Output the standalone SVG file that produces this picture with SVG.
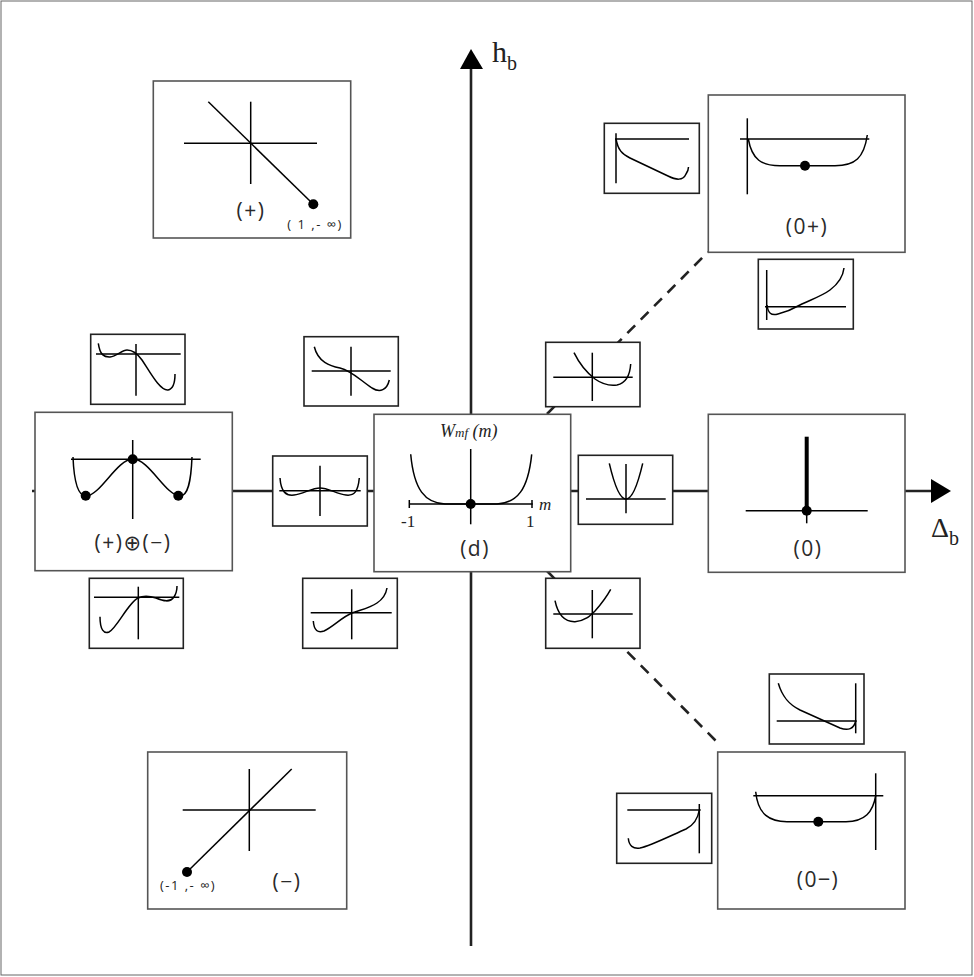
<svg xmlns="http://www.w3.org/2000/svg" width="974" height="977" viewBox="0 0 974 977">
<style>
.frame{fill:none;stroke:#666;stroke-width:1}
.axis{fill:none;stroke:#222;stroke-width:2.6}
.dash{fill:none;stroke:#222;stroke-width:2.6;stroke-dasharray:11 8}
.big{fill:#fff;stroke:#555;stroke-width:1.6}
.small{fill:#fff;stroke:#222;stroke-width:1.6}
.ln{fill:none;stroke:#000;stroke-width:1.5}
.dot{fill:#000}
.lbl{font-family:"Open Sans","Noto Sans","DejaVu Sans",sans-serif;font-size:21px;fill:#2a2a2a;text-anchor:middle;letter-spacing:1.5px}
.sm{font-family:"Open Sans","Noto Sans","DejaVu Sans",sans-serif;font-size:13px;fill:#222;text-anchor:middle;letter-spacing:1.5px}
.ser{font-family:"Liberation Serif","DejaVu Serif",serif;fill:#222}
</style>
<rect class="frame" x="1" y="1" width="971" height="974"/>
<g id="connectors">
<line class="axis" x1="32" y1="491" x2="932" y2="491"/>
<polygon points="951,491 931,479 931,503" fill="#000"/>
<line class="axis" x1="471" y1="946" x2="471" y2="68"/>
<polygon points="471,49 460,69 483,69" fill="#000"/>
<line class="dash" x1="547" y1="414" x2="708" y2="252"/>
<line class="dash" x1="547" y1="571" x2="721" y2="746"/>
</g>
<g id="axis-labels">
<text class="ser" x="492" y="62" font-size="30">h<tspan font-size="20" dy="8">b</tspan></text>
<text class="ser" x="931" y="537" font-size="28">Δ<tspan font-size="20" dy="8">b</tspan></text>
</g>
<g id="node-plus">
<rect class="big" x="153.3" y="81" width="197.4" height="157"/>
<line class="ln" x1="184" y1="143.3" x2="317" y2="143.3"/>
<line class="ln" x1="250.7" y1="101.7" x2="250.7" y2="184"/>
<line class="ln" x1="208.3" y1="101.7" x2="313.3" y2="204.3"/>
<circle class="dot" cx="313.3" cy="204.3" r="5"/>
<text class="lbl" x="251" y="218">(+)</text>
<text class="sm" x="315" y="229" xml:space="preserve">( 1 ,- ∞)</text>
</g>
<g id="node-minus">
<rect class="big" x="147.7" y="752" width="199" height="157"/>
<line class="ln" x1="182.7" y1="810" x2="315.7" y2="810"/>
<line class="ln" x1="249.3" y1="769" x2="249.3" y2="851"/>
<line class="ln" x1="291.7" y1="769" x2="187" y2="872"/>
<circle class="dot" cx="187" cy="872" r="5"/>
<text class="lbl" x="287" y="889">(−)</text>
<text class="sm" x="188" y="890" xml:space="preserve">(-1 ,- ∞)</text>
</g>
<g id="node-coexist">
<rect class="big" x="35" y="412.3" width="197.3" height="158.4"/>
<line class="ln" x1="71" y1="459.3" x2="200.7" y2="459.3"/>
<line class="ln" x1="132.7" y1="440" x2="132.7" y2="519"/>
<path class="ln" d="M73,457 C74,482 78,496 86,496 C100,496 117,459 133,459 C149,459 166,496 180,496 C188,496 191,482 192,457"/>
<circle class="dot" cx="132.7" cy="459.3" r="5"/>
<circle class="dot" cx="85.7" cy="495.7" r="5"/>
<circle class="dot" cx="178.3" cy="495.7" r="5"/>
<text class="lbl" x="133" y="550" font-size="23" letter-spacing="1">(+)⊕(−)</text>
</g>
<g id="node-d">
<rect class="big" x="374" y="414.3" width="196.7" height="157.4"/>
<text class="ser" x="440" y="437" font-style="italic" font-size="18" fill="#444">W<tspan font-size="13">mf</tspan> (m)</text>
<line class="ln" x1="409.3" y1="504" x2="532.7" y2="504"/>
<line class="ln" x1="409.3" y1="500" x2="409.3" y2="508"/>
<line class="ln" x1="532" y1="500" x2="532" y2="508"/>
<line class="ln" x1="470.7" y1="449" x2="470.7" y2="524.3"/>
<path class="ln" d="M410.7,454.3 C414,490 425,503 445,504 L497,504 C517,503 528,490 531.7,454.3"/>
<circle class="dot" cx="470.7" cy="504" r="5"/>
<text class="ser" x="401" y="527" font-size="17">-1</text>
<text class="ser" x="526" y="527" font-size="17">1</text>
<text class="ser" x="539" y="510" font-size="17" font-style="italic">m</text>
<text class="lbl" x="475" y="556">(d)</text>
</g>
<g id="node-zero">
<rect class="big" x="708.3" y="414.3" width="196.7" height="158"/>
<line class="ln" x1="745.7" y1="510.7" x2="867.7" y2="510.7"/>
<line x1="806.7" y1="436.7" x2="806.7" y2="510.7" stroke="#000" stroke-width="4"/>
<line class="ln" x1="806.7" y1="510.7" x2="806.7" y2="523.3"/>
<circle class="dot" cx="806.7" cy="510.7" r="5"/>
<text class="lbl" x="808" y="556">(0)</text>
</g>
<g id="node-zero-plus">
<rect class="big" x="708.3" y="95" width="196.7" height="157.3"/>
<line class="ln" x1="740" y1="139" x2="869.3" y2="139"/>
<line class="ln" x1="747.3" y1="118.3" x2="747.3" y2="194.3"/>
<path class="ln" d="M748.3,139 C752,160 762,165.7 780,165.7 L835,165.7 C855,165.7 864,158 867.3,135"/>
<circle class="dot" cx="805" cy="165.7" r="5"/>
<text class="lbl" x="807" y="234">(0+)</text>
</g>
<g id="node-zero-minus">
<rect class="big" x="717.7" y="752" width="187.3" height="157"/>
<line class="ln" x1="753.3" y1="795.7" x2="883.3" y2="795.7"/>
<line class="ln" x1="875.7" y1="773.3" x2="875.7" y2="850"/>
<path class="ln" d="M755.7,791.7 C758,815 770,821.7 787,821.7 L846,821.7 C865,821.7 873,812 875.7,795.7"/>
<circle class="dot" cx="818.3" cy="821.7" r="5"/>
<text class="lbl" x="818" y="887">(0‒)</text>
</g>
<g id="mini-a">
<rect class="small" x="90.7" y="334.3" width="94.3" height="70"/>
<line class="ln" x1="96" y1="354" x2="180.7" y2="354"/>
<line class="ln" x1="136" y1="344" x2="136" y2="395.7"/>
<path class="ln" d="M98.3,343.3 C100,355 104,357.3 110,357 C117,356 122,350 127,350 C133,350 137,353 142,360 C150,372 160,391 168,390 C173,389 175,382 175,374"/>
</g>
<g id="mini-b">
<rect class="small" x="304" y="336.7" width="94.3" height="69.3"/>
<line class="ln" x1="311.7" y1="371" x2="390.7" y2="371"/>
<line class="ln" x1="351" y1="346.7" x2="351" y2="395.7"/>
<path class="ln" d="M314.3,346.7 C318,362 330,366 340,368 C352,371 360,380 372,388 C380,393 387,390 389.3,380"/>
</g>
<g id="mini-c">
<rect class="small" x="272.7" y="456" width="94.6" height="70"/>
<line class="ln" x1="279.3" y1="490.7" x2="360.7" y2="490.7"/>
<line class="ln" x1="320" y1="465.7" x2="320" y2="516"/>
<path class="ln" d="M280,478 C281,492 286,496 294,495 C303,494 312,488 320,488 C328,488 337,494 346,495 C354,496 358,492 359.3,478"/>
</g>
<g id="mini-d">
<rect class="small" x="89.3" y="578.3" width="94" height="70"/>
<line class="ln" x1="94" y1="597.3" x2="179.3" y2="597.3"/>
<line class="ln" x1="138.3" y1="586.7" x2="138.3" y2="639.3"/>
<path class="ln" d="M100,616.7 C100,630 104,634 109,632 C117,628 128,603 138,598 C144,595 150,596 156,598 C163,601 170,603 174,597 C176,594 177,590 177,586"/>
</g>
<g id="mini-e">
<rect class="small" x="302.7" y="578.3" width="94.6" height="70"/>
<line class="ln" x1="310.7" y1="612.7" x2="391.7" y2="612.7"/>
<line class="ln" x1="351.7" y1="589.3" x2="351.7" y2="639.3"/>
<path class="ln" d="M313.3,621 C314,631 318,633 324,631 C333,627 342,617 352,613 C360,610 370,608 377,603 C383,599 386,594 387,588"/>
</g>
<g id="mini-f">
<rect class="small" x="545.7" y="342.3" width="94.3" height="64.4"/>
<line class="ln" x1="553.3" y1="377.3" x2="632.7" y2="377.3"/>
<line class="ln" x1="592.3" y1="352.7" x2="592.3" y2="401"/>
<path class="ln" d="M574,352.7 C580,365 587,373 595,379 C602,384 610,386 617,385 C626,383 630,375 630.7,364"/>
</g>
<g id="mini-g">
<rect class="small" x="578.3" y="455.3" width="94.4" height="69"/>
<line class="ln" x1="586" y1="499" x2="665.7" y2="499"/>
<line class="ln" x1="626" y1="464" x2="626" y2="513.3"/>
<path class="ln" d="M609.3,463.3 Q626,534.7 642.7,463.3"/>
</g>
<g id="mini-h">
<rect class="small" x="545.7" y="578.3" width="94.3" height="70"/>
<line class="ln" x1="553.3" y1="614" x2="632.7" y2="614"/>
<line class="ln" x1="592.3" y1="590" x2="592.3" y2="638.3"/>
<path class="ln" d="M555,600.7 C558,615 565,622 575,621.7 C585,621 590,616 595,611 C602,603 607,596 610.7,589.3"/>
</g>
<g id="mini-i">
<rect class="small" x="604.3" y="123.3" width="95" height="70"/>
<line class="ln" x1="615" y1="139" x2="689" y2="139"/>
<line class="ln" x1="616" y1="133.3" x2="616" y2="183.3"/>
<path class="ln" d="M616,139 C618,150 622,154 630,158 L668,176 C676,180 683,181 686,174 C688,171 688.5,169 688.5,167"/>
</g>
<g id="mini-j">
<rect class="small" x="758.3" y="259.3" width="95" height="69.7"/>
<line class="ln" x1="765" y1="306.7" x2="846" y2="306.7"/>
<line class="ln" x1="766.7" y1="270" x2="766.7" y2="320"/>
<path class="ln" d="M767,305 C768,313 771,316 778,314 C786,312 793,309 800,305 C810,300 822,296 830,290 C838,284 843,277 844,268"/>
</g>
<g id="mini-k">
<rect class="small" x="769.3" y="674" width="94.7" height="70"/>
<line class="ln" x1="776.7" y1="721" x2="856.7" y2="721"/>
<line class="ln" x1="855.7" y1="683.3" x2="855.7" y2="733.3"/>
<path class="ln" d="M778.3,683.3 C782,696 788,704 800,710 L840,728 C848,731 854,729 855.7,721"/>
</g>
<g id="mini-l">
<rect class="small" x="616.7" y="793.3" width="95" height="70"/>
<line class="ln" x1="627.3" y1="810" x2="700.7" y2="810"/>
<line class="ln" x1="699.3" y1="804" x2="699.3" y2="853.3"/>
<path class="ln" d="M628.3,838.3 C629,846 633,849 640,848 C650,846 670,836 686,829 C694,825 698,818 699.3,810"/>
</g>
</svg>
